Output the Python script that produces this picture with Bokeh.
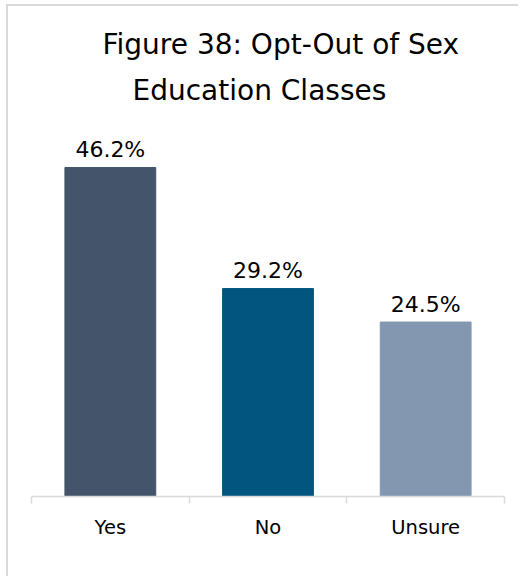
from bokeh.plotting import figure
from bokeh.models import Range1d, FixedTicker, Title, ColumnDataSource, LinearAxis
from bokeh.core.properties import value
from bokeh.embed import file_html
from bokeh.resources import INLINE

categories = ["Yes", "No", "Unsure"]
percentages = [46.2, 29.2, 24.5]
bar_colors = ["#44546A", "#02557F", "#8497B0"]
title_lines = ["Figure 38: Opt-Out of Sex", "Education Classes"]

FONT = "DejaVu Sans"

xs = [i + 0.5 for i in range(len(categories))]
labels = [f"{v:.1f}%" for v in percentages]
src = ColumnDataSource(dict(x=xs, top=percentages, color=bar_colors, label=labels))

p = figure(width=512, height=572, output_backend="svg", toolbar_location=None,
           x_range=Range1d(0, len(categories)), y_range=Range1d(0, 51.4),
           x_axis_location=None, y_axis_location=None,
           min_border_left=23, min_border_right=16, min_border_bottom=82, min_border_top=124)
p.styles = {"border-top": "2px solid #d9d9d9", "border-left": "2px solid #d9d9d9",
            "margin-left": "6px", "margin-top": "4px"}
p.outline_line_color = None
p.xgrid.visible = False
p.ygrid.visible = False
p.background_fill_color = "white"
p.border_fill_color = "white"

p.vbar(x="x", top="top", bottom=0, width=0.576, color="color", source=src)
p.text(x="x", y="top", text="label", source=src, text_align="center",
       text_baseline="alphabetic", y_offset=-18, text_font=value(FONT),
       text_font_size="22px", text_color="#000000")

ax = LinearAxis(ticker=FixedTicker(ticks=xs, minor_ticks=list(range(len(categories) + 1))),
                major_label_overrides={x: c for x, c in zip(xs, categories)})
ax.axis_line_color = "#d9d9d9"
ax.axis_line_width = 1.5
ax.major_tick_line_color = None
ax.major_tick_out = 0
ax.major_tick_in = 0
ax.minor_tick_line_color = "#d9d9d9"
ax.minor_tick_line_width = 1.5
ax.minor_tick_out = 7
ax.minor_tick_in = 0
ax.major_label_standoff = 12
ax.major_label_text_font = FONT
ax.major_label_text_font_size = "19.5px"
ax.major_label_text_color = "#000000"
p.add_layout(ax, "below")

p.add_layout(Title(text=title_lines[1], align="left", text_font=FONT,
                   text_font_size="28px", text_font_style="normal",
                   text_color="#000000", standoff=47, offset=101), "above")
p.add_layout(Title(text=title_lines[0], align="left", text_font=FONT,
                   text_font_size="28px", text_font_style="normal",
                   text_color="#000000", standoff=-24, offset=71), "above")

open("out.html", "w").write(file_html(p, INLINE))
